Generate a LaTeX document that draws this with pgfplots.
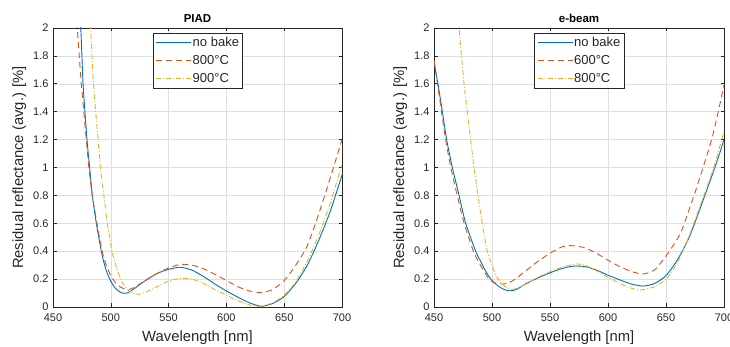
\documentclass[border=0pt]{standalone}
\usepackage{pgfplots}
\pgfplotsset{compat=1.18}
\usepackage{fontspec}
\setmainfont{Liberation Sans}
\definecolor{mblue}{rgb}{0,0.447,0.741}
\definecolor{morange}{rgb}{0.85,0.325,0.098}
\definecolor{myellow}{rgb}{0.929,0.694,0.125}
\definecolor{axgray}{gray}{0.15}
\pgfplotsset{
  mystyle/.style={
    scale only axis, width=289pt, height=279pt,
    xmin=450, xmax=700, ymin=0, ymax=2,
    xtick={450,500,550,600,650,700},
    ytick={0,0.2,0.4,0.6,0.8,1,1.2,1.4,1.6,1.8,2},
    grid=major, major grid style={black!13, line width=0.5pt},
    axis line style={axgray, line width=0.6pt},
    tick style={axgray, line width=0.6pt},
    tick align=inside, major tick length=3.5pt,
    ticklabel style={font=\fontsize{11}{13}\selectfont, text=axgray},
    xticklabel style={yshift=-3pt},
    yticklabel style={xshift=-1pt},
    /pgf/number format/assume math mode=true,
    label style={font=\fontsize{14.8}{17}\selectfont, text=axgray},
    xlabel style={yshift=-3pt},
    title style={font=\bfseries\fontsize{11.5}{13}\selectfont, text=black, yshift=-4pt},
    xlabel={Wavelength [nm]},
    ylabel={Residual reflectance (avg.) [\%]},
    legend cell align=left,
    legend style={at={(rel axis cs:0.346,0.982)}, anchor=north west,
      draw=axgray, line width=0.7pt, fill=white,
      font=\fontsize{13}{15}\selectfont, text=axgray,
      row sep=4pt, inner sep=2.5pt,
      nodes={inner sep=1pt, text height=9.5pt, text depth=2.5pt}},
    legend image code/.code={\draw[#1] (0pt,0pt) -- (35pt,0pt);},
  },
  pb/.style={mblue, line width=0.9pt, smooth, tension=0.4},
  po/.style={morange, line width=0.9pt, dash pattern=on 6pt off 4pt, smooth, tension=0.4},
  py/.style={myellow, line width=0.9pt, dash pattern=on 5pt off 2pt on 1pt off 2pt, smooth, tension=0.4},
}
\begin{document}
\begin{tikzpicture}
\useasboundingbox (0,0) rectangle (730pt,347pt);
\begin{axis}[mystyle, at={(53pt,40pt)}, anchor=south west, title={PIAD}]
\addplot[pb] coordinates {
(470,2.45) (474,2.0) (476,1.6) (479.4,1.2) (481.7,1.0) (484,0.8) (487.5,0.6)
(491.8,0.4) (494,0.32) (497,0.24) (500,0.185) (503,0.145) (506,0.118)
(509,0.103) (512,0.098) (515,0.103) (520,0.13)
(530,0.19) (540,0.24) (550,0.27) (560,0.285) (570,0.265) (580,0.22)
(590,0.165) (600,0.115) (610,0.07) (620,0.03) (630,0.005) (640,0.025)
(650,0.075) (660,0.17) (670,0.30) (680,0.48) (690,0.69) (700,0.946)};
\addlegendentry{no bake}
\addplot[po] coordinates {
(468,2.4) (471,2.0) (474.5,1.6) (478.8,1.2) (481,1.0) (484,0.8) (488,0.6)
(492.5,0.4) (496,0.3) (500,0.225) (504,0.175) (508,0.145) (512,0.13)
(516,0.127) (520,0.14)
(530,0.19) (540,0.24) (550,0.28) (560,0.305) (570,0.30) (580,0.275)
(590,0.235) (600,0.19) (610,0.145) (620,0.115) (630,0.103) (640,0.125)
(650,0.19) (660,0.30) (670,0.44) (680,0.67) (690,0.93) (700,1.2)};
\addlegendentry{800°C}
\addplot[py] coordinates {
(478,2.6) (482.5,2.0) (485,1.6) (489,1.2) (491,1.0) (494,0.8) (497,0.6)
(501,0.4) (505,0.28) (510,0.175) (515,0.12) (520,0.097) (524,0.091)
(530,0.105) (540,0.145) (550,0.185) (560,0.205) (570,0.20) (580,0.17)
(590,0.125) (600,0.085) (610,0.045) (620,0.015) (628,0.003) (640,0.03)
(650,0.085) (660,0.18) (670,0.33) (680,0.52) (690,0.75) (700,1.02)};
\addlegendentry{900°C}
\end{axis}
\begin{axis}[mystyle, at={(434pt,40pt)}, anchor=south west, width=290pt, title={e-beam}]
\addplot[pb] coordinates {
(450,1.76) (453.4,1.6) (457.2,1.4) (460.9,1.2) (465.8,1.0) (471.6,0.8)
(477.3,0.6) (485.9,0.4) (490,0.33) (494,0.265) (497.4,0.218) (500,0.19)
(505,0.152) (510,0.127) (514,0.117) (518,0.118) (522,0.13) (530,0.17)
(540,0.21) (550,0.245)
(560,0.275) (570,0.293) (580,0.29) (590,0.265) (600,0.228) (610,0.195)
(620,0.165) (630,0.15) (640,0.168) (650,0.225) (660,0.34) (670,0.50)
(680,0.72) (690,0.95) (695,1.07) (700,1.2)};
\addlegendentry{no bake}
\addplot[po] coordinates {
(450,1.77) (453,1.6) (456.5,1.4) (460,1.2) (464.5,1.0) (470,0.8) (476,0.6)
(484,0.4) (490,0.3) (497,0.205) (500,0.183) (505,0.167) (510,0.165)
(515,0.175) (520,0.2) (530,0.265) (540,0.33) (550,0.385) (560,0.43)
(568,0.44) (580,0.425) (590,0.385) (600,0.335) (610,0.29) (620,0.255)
(630,0.237) (640,0.265) (650,0.366) (660,0.49) (665,0.58) (670,0.70)
(675,0.82) (680,0.95) (685,1.08) (690,1.22) (695,1.40) (700,1.59)};
\addlegendentry{600°C}
\addplot[py] coordinates {
(470,2.2) (471.6,2.0) (475.9,1.6) (481.6,1.2) (484.5,1.0) (487.9,0.8)
(491.6,0.6) (495.9,0.4) (500,0.30) (503,0.235) (506,0.19) (510,0.155)
(514,0.135) (518,0.127) (525,0.145) (530,0.17) (540,0.215) (550,0.253)
(560,0.285) (572,0.308) (580,0.30) (590,0.26) (600,0.213) (610,0.17)
(620,0.135) (628,0.122) (640,0.145) (650,0.198) (660,0.32) (670,0.51)
(680,0.74) (690,0.97) (700,1.257)};
\addlegendentry{800°C}
\end{axis}
\end{tikzpicture}
\end{document}
